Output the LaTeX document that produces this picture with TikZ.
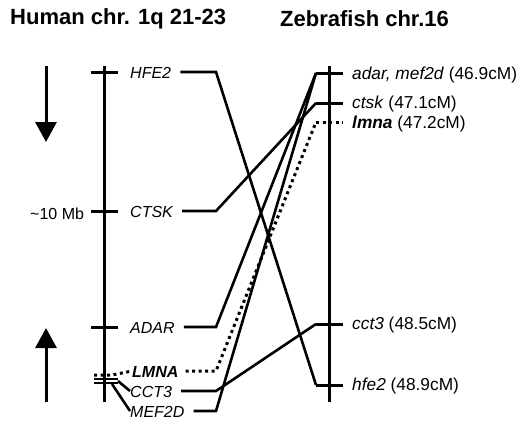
\documentclass[tikz,border=0pt]{standalone}
\usepackage{fontspec}
\setmainfont{Liberation Sans}
\usetikzlibrary{arrows.meta}

\begin{document}
\begin{tikzpicture}[x=1pt, y=-1pt,
  chrom/.style={line width=3pt},
  link/.style={line width=2.6pt, line join=miter},
  dots/.style={line width=3pt, dash pattern=on 3pt off 3.5pt},
  gene/.style={anchor=west, inner sep=0pt, text height=12pt, text depth=0pt, font=\fontsize{16}{18}\selectfont\itshape},
  zgene/.style={gene, font=\fontsize{17.3}{19}\selectfont},
  title/.style={anchor=west, inner sep=0pt, font=\fontsize{22}{26}\selectfont\bfseries}]
    \useasboundingbox (0,0) rectangle (526,424);
    \node[title] (htitle) at (10,19) {Human chr. 1q 21-23};
    \node[title] (ztitle) at (280,19) {Zebrafish chr.16};

    % direction arrows and scale
    \draw[chrom, -{Triangle[width=21pt,length=20pt]}] (46,66) -- (46,142);
    \draw[chrom, -{Triangle[width=21pt,length=20pt]}] (46,402) -- (46,328);
    \node[anchor=west, inner sep=0pt, font=\fontsize{16}{18}\selectfont] (scale) at (30,214) {\textasciitilde10 Mb};

    % human chromosome
    \coordinate (bend) at (216,0);
    \draw[chrom] (104,66) -- (104,402);
    \foreach \y in {72,211,327} \draw[chrom] (91,\y) -- (118,\y);
    \draw[line width=2pt] (94,379) -- (118,379) (94,383) -- (118,383);
    \coordinate (h-lmna) at (112,375);
    \coordinate (h-cct3) at (118,381);
    \coordinate (h-mef2d) at (112,384);
    \node[gene] (HFE2) at (130,72) {HFE2};
    \node[gene] (CTSK) at (130,211) {CTSK};
    \node[gene] (ADAR) at (130,327) {ADAR};
    \node[gene, font=\fontsize{16}{18}\selectfont\bfseries\itshape] (LMNA) at (132,371) {LMNA};
    \node[gene] (CCT3) at (130,391) {CCT3};
    \node[gene] (MEF2D) at (130,411) {MEF2D};
    \draw[dots] (94,375) -- (h-lmna) -- (LMNA.west);
    \draw[link] (h-cct3) -- (CCT3.west);
    \draw[link] (h-mef2d) -- (MEF2D.west);

    % zebrafish chromosome
    \draw[chrom] (329,66) -- (329,402);
    \coordinate (z-adar) at (316,73);
    \coordinate (z-ctsk) at (316,103);
    \coordinate (z-lmna) at (316,122);
    \coordinate (z-cct3) at (316,324);
    \coordinate (z-hfe2) at (316,385);
    \foreach \g in {adar,ctsk,cct3,hfe2} \draw[chrom] (z-\g) -- ++(27,0);
    \draw[dots] (z-lmna) -- ++(27,0);
    \node[zgene] (adar) at (352,73) {\textit{adar, mef2d} (46.9cM)};
    \node[zgene] (ctsk) at (352,102) {\textit{ctsk} (47.1cM)};
    \node[zgene] (lmna) at (352,122) {\textit{\textbf{lmna}} (47.2cM)};
    \node[zgene] (cct3) at (352,323) {\textit{cct3} (48.5cM)};
    \node[zgene] (hfe2) at (352,384) {\textit{hfe2} (48.9cM)};

    % syntenic links
    \draw[link] ([xshift=9pt]HFE2.east) -- (HFE2.east -| bend) -- (z-hfe2);
    \draw[link] ([xshift=9pt]CTSK.east) -- (CTSK.east -| bend) -- (z-ctsk);
    \draw[link] ([xshift=9pt]ADAR.east) -- (ADAR.east -| bend) -- (z-adar);
    \draw[link] ([xshift=9pt]CCT3.east) -- (CCT3.east -| bend) -- (z-cct3);
    \draw[link] ([xshift=9pt]MEF2D.east) -- (MEF2D.east -| bend) -- (z-adar);
    \draw[dots] ([xshift=7pt]LMNA.east) -- (LMNA.east -| bend) -- (z-lmna);
\end{tikzpicture}
\end{document}
